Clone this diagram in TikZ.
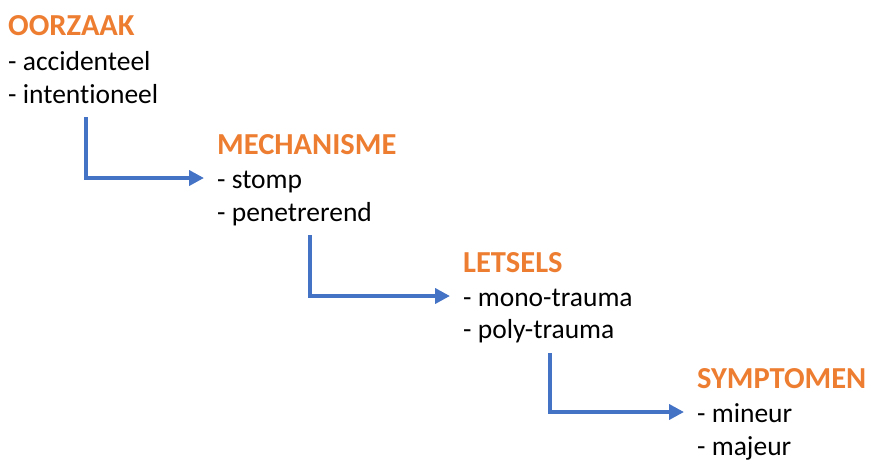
\documentclass[tikz,border=0pt]{standalone}
\usepackage{fontspec}
\setmainfont[RawFeature=-liga]{Carlito}
\usetikzlibrary{arrows.meta}
\definecolor{headorange}{HTML}{ED7D31}
\definecolor{flowblue}{HTML}{4472C4}
\tikzset{
  head/.style={anchor=base west, inner sep=0pt, text=headorange,
    font=\fontsize{30.5}{36}\selectfont\bfseries},
  item/.style={anchor=base west, inner sep=0pt, text=black,
    font=\fontsize{27.5}{33}\selectfont},
  target/.style={item, text height=20pt, text depth=0pt},
  flow/.style={draw=flowblue, line width=4pt,
    -{Triangle[length=15pt,width=15pt]}, shorten >=13pt}
}
\begin{document}
\begin{tikzpicture}[x=1pt,y=-1pt]
  \path[use as bounding box] (0,0) rectangle (872,459);

  % cause
  \node[head] (oorzaak) at (8,35) {OORZAAK};
  \node[item] (accid) at (8,70) {- accidenteel};
  \node[item] (intent) at (8,103) {- intentioneel};

  % mechanism
  \node[head] (mech) at (217,154) {MECHANISME};
  \node[target] (stomp) at (217,188) {- stomp};
  \node[item] (penet) at (217,221) {- penetrerend};

  % injuries
  \node[head] (letsels) at (463,272) {LETSELS};
  \node[target] (mono) at (463,306) {- mono-trauma};
  \node[item] (poly) at (463,338) {- poly-trauma};

  % symptoms
  \node[head] (sympt) at (697,388) {SYMPTOMEN};
  \node[target] (mineur) at (697,422) {- mineur};
  \node[item] (majeur) at (697,455) {- majeur};

  % elbow connectors
  \coordinate (s1) at (86,117);
  \coordinate (s2) at (310,235);
  \coordinate (s3) at (550,353);
  \draw[flow] (s1) |- (stomp.west);
  \draw[flow] (s2) |- (mono.west);
  \draw[flow] (s3) |- (mineur.west);
\end{tikzpicture}
\end{document}
